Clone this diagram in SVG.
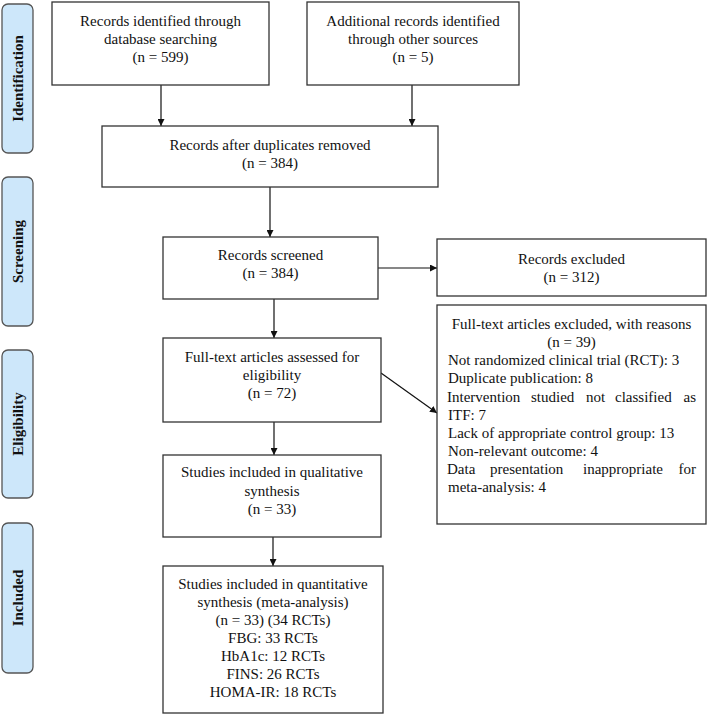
<svg xmlns="http://www.w3.org/2000/svg" width="708" height="716" viewBox="0 0 708 716" font-family="'Liberation Serif', Tinos, 'Times New Roman', Times, serif">
<defs>
<marker id="ah" viewBox="0 0 10 10" refX="10" refY="5" markerWidth="7" markerHeight="7" markerUnits="userSpaceOnUse" orient="auto">
<path d="M0,0 L10,5 L0,10 z" fill="#111"/>
</marker>
</defs>
<style>
.box{fill:#fff;stroke:#333;stroke-width:1.3}
.side{fill:#cde7fa;stroke:#555;stroke-width:1.3}
.t{font-size:15px;fill:#111}
.c{text-anchor:middle}
.e{text-anchor:end}
.st{font-size:15px;font-weight:bold;fill:#111;text-anchor:middle}
.ln{stroke:#111;stroke-width:1.2;fill:none;marker-end:url(#ah)}
</style>
<rect width="708" height="716" fill="#fff"/>
<g id="phase-identification"><rect class="side" x="2" y="4" width="31" height="149" rx="6"/><text class="st" transform="translate(23,78.5) rotate(-90)">Identification</text></g>
<g id="phase-screening"><rect class="side" x="2" y="177" width="31" height="149" rx="6"/><text class="st" transform="translate(23,251.5) rotate(-90)">Screening</text></g>
<g id="phase-eligibility"><rect class="side" x="2" y="350" width="31" height="148" rx="6"/><text class="st" transform="translate(23,424) rotate(-90)">Eligibility</text></g>
<g id="phase-included"><rect class="side" x="2" y="523" width="31" height="150" rx="6"/><text class="st" transform="translate(23,598) rotate(-90)">Included</text></g>
<g id="connectors">
<line class="ln" x1="161" y1="85" x2="161" y2="126"/>
<line class="ln" x1="412" y1="85" x2="412" y2="126"/>
<line class="ln" x1="270" y1="187" x2="270" y2="237"/>
<line class="ln" x1="378" y1="268" x2="437" y2="268"/>
<line class="ln" x1="274" y1="299" x2="274" y2="338"/>
<line class="ln" x1="381" y1="373" x2="437" y2="413"/>
<line class="ln" x1="274" y1="422" x2="274" y2="455"/>
<line class="ln" x1="273" y1="537" x2="273" y2="566"/>
</g>
<g id="db-search"><rect class="box" x="52" y="2" width="217" height="83"/>
<text class="t c" x="160.5" y="26">Records identified  through</text>
<text class="t c" x="160.5" y="44">database searching</text>
<text class="t c" x="160.5" y="62">(n = 599)</text></g>
<g id="other-sources"><rect class="box" x="307" y="2" width="212" height="83"/>
<text class="t c" x="413" y="26">Additional  records identified</text>
<text class="t c" x="413" y="44">through other sources</text>
<text class="t c" x="413" y="62">(n = 5)</text></g>
<g id="duplicates-removed"><rect class="box" x="102" y="126" width="336" height="61"/>
<text class="t c" x="270" y="150">Records after duplicates removed</text>
<text class="t c" x="270" y="168">(n = 384)</text></g>
<g id="screened"><rect class="box" x="163" y="237" width="215" height="62"/>
<text class="t c" x="270.5" y="260">Records screened</text>
<text class="t c" x="270.5" y="278">(n = 384)</text></g>
<g id="excluded"><rect class="box" x="437" y="239" width="269" height="57"/>
<text class="t c" x="571.5" y="264">Records excluded</text>
<text class="t c" x="571.5" y="282">(n = 312)</text></g>
<g id="fulltext-assessed"><rect class="box" x="163" y="338" width="218" height="84"/>
<text class="t c" x="272" y="362">Full-text  articles assessed for</text>
<text class="t c" x="272" y="380">eligibility</text>
<text class="t c" x="272" y="398">(n = 72)</text></g>
<g id="fulltext-excluded"><rect class="box" x="437" y="305" width="269" height="219"/>
<text class="t c" x="571.5" y="329">Full-text  articles excluded,  with reasons</text>
<text class="t c" x="571.5" y="347">(n = 39)</text>
<text class="t" x="448" y="365">Not randomized clinical  trial (RCT): 3</text>
<text class="t" x="448" y="383">Duplicate publication:  8</text>
<text class="t" x="447" y="402">Intervention</text><text class="t" x="531" y="402">studied</text><text class="t" x="586" y="402">not</text><text class="t" x="615" y="402">classified</text><text class="t e" x="696" y="402">as</text>
<text class="t" x="448" y="420">ITF: 7</text>
<text class="t" x="448" y="438">Lack of appropriate control group:  13</text>
<text class="t" x="448" y="456">Non-relevant outcome: 4</text>
<text class="t" x="447" y="474">Data</text><text class="t" x="490" y="474">presentation</text><text class="t" x="583" y="474">inappropriate</text><text class="t e" x="696" y="474">for</text>
<text class="t" x="448" y="492">meta-analysis: 4</text></g>
<g id="qualitative"><rect class="box" x="163" y="455" width="218" height="82"/>
<text class="t c" x="272" y="477">Studies included in qualitative</text>
<text class="t c" x="272" y="496">synthesis</text>
<text class="t c" x="272" y="514">(n = 33)</text></g>
<g id="quantitative"><rect class="box" x="163" y="566" width="220" height="147"/>
<text class="t c" x="273" y="589">Studies included in quantitative</text>
<text class="t c" x="273" y="607">synthesis (meta-analysis)</text>
<text class="t c" x="273" y="625">(n = 33) (34 RCTs)</text>
<text class="t c" x="273" y="643">FBG: 33 RCTs</text>
<text class="t c" x="273" y="661">HbA1c: 12 RCTs</text>
<text class="t c" x="273" y="679">FINS: 26 RCTs</text>
<text class="t c" x="273" y="697">HOMA-IR: 18 RCTs</text></g>
</svg>
